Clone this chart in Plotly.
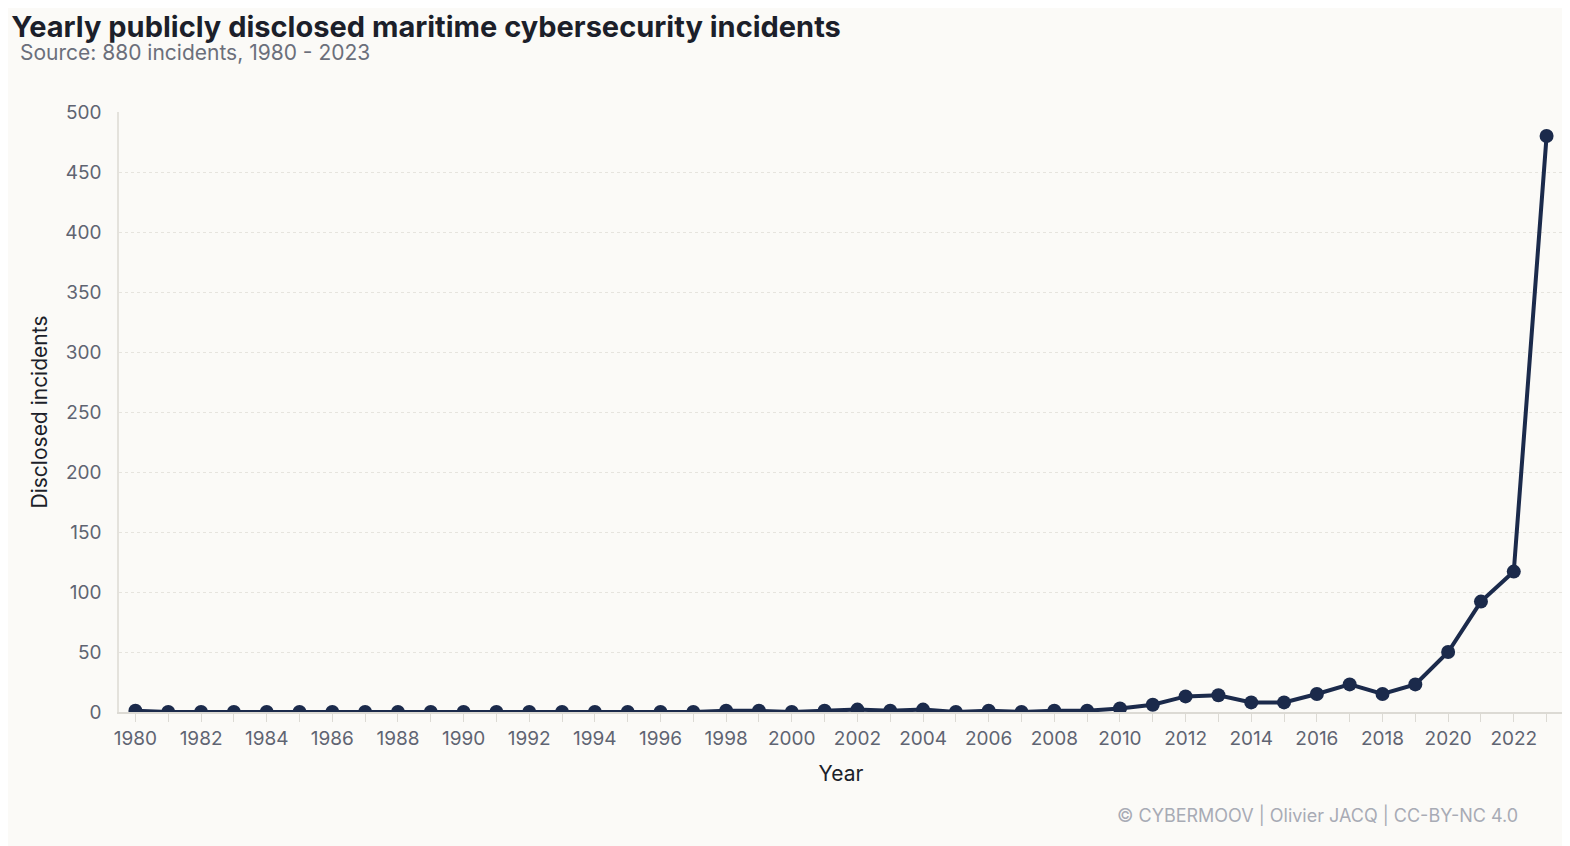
import plotly.graph_objects as go

years = list(range(1980, 2024))
incidents = [1] + [0]*17 + [1, 1, 0, 1, 2, 1, 2, 0, 1, 0, 1, 1,
             3, 6, 13, 14, 8, 8, 15, 23, 15, 23, 50, 92, 117, 480]
y_ticks = list(range(0, 501, 50))

color = "#1b2a4b"
fig = go.Figure(go.Scatter(x=years, y=incidents, mode="lines+markers",
                           line=dict(color=color, width=4),
                           marker=dict(color=color, size=14)))
fig.update_layout(
    width=1570, height=846, paper_bgcolor="#fbfaf7", plot_bgcolor="#fbfaf7",
    margin=dict(l=111, r=15, t=104, b=142),
    font=dict(family="Inter", color="#5f6472", size=19),
    showlegend=False,
    title=dict(text="<b>Yearly publicly disclosed maritime cybersecurity incidents</b>",
               x=0.002, xanchor="left", y=0.99, yanchor="top",
               font=dict(size=29, color="#1c1f2a")),
    annotations=[
        dict(text="Source: 880 incidents, 1980 - 2023", xref="paper", yref="paper",
             x=-0.07, y=1.123, xanchor="left", yanchor="top", showarrow=False,
             font=dict(size=21, color="#6b6f7b")),
        dict(text="© CYBERMOOV | Olivier JACQ | CC-BY-NC 4.0", xref="paper", yref="paper",
             x=0.97, y=-0.15, xanchor="right", yanchor="top", showarrow=False,
             font=dict(size=18, color="#a8abb5")),
    ],
)
fig.update_xaxes(range=[1979.5, 2023.5], tickvals=list(range(1980, 2024, 2)),
                 minor=dict(tickvals=years, ticks="outside", ticklen=8, tickcolor="#dcdad4"),
                 ticks="outside", ticklen=8, tickcolor="#dcdad4",
                 showline=True, linecolor="#dcdad4", linewidth=2, showgrid=False,
                 zeroline=False,
                 title=dict(text="Year", font=dict(size=21, color="#1c1f2a"), standoff=18))
fig.update_yaxes(range=[0, 500], tickvals=y_ticks, showline=True, linecolor="#e4e2dc",
                 linewidth=1.5, gridcolor="#e6e4de", griddash="dot", zeroline=False,
                 ticks="", ticklabelstandoff=12,
                 title=dict(text="Disclosed incidents", font=dict(size=21, color="#1c1f2a"),
                            standoff=12))
fig.write_html("out.html")
